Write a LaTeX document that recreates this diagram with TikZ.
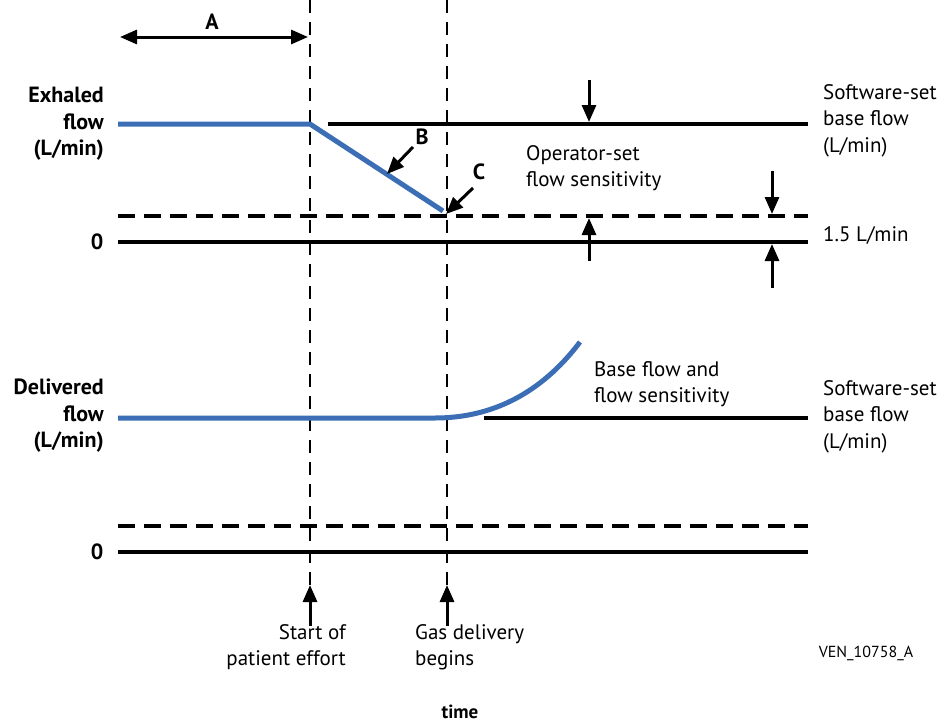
\documentclass[tikz,border=0pt]{standalone}
\usepackage{fontspec}
\setmainfont{PT Sans}
\usetikzlibrary{arrows.meta}
\definecolor{flowblue}{RGB}{59,110,181}
\begin{document}
\begin{tikzpicture}[x=1pt,y=-1pt,
  txt/.style={font=\fontsize{21}{26.5}\selectfont, inner sep=0pt, align=left},
  btxt/.style={font=\fontsize{22}{26.5}\selectfont\bfseries, inner sep=0pt},
  solidline/.style={line width=3.2pt},
  dashline/.style={line width=3.2pt, dash pattern=on 17pt off 9pt},
  vdash/.style={line width=1.3pt, dash pattern=on 13pt off 9pt},
  blueline/.style={line width=5pt, flowblue},
  arr/.style={line width=3pt, -{Triangle[length=17pt,width=14pt]}},
  darr/.style={line width=3pt, {Triangle[length=17pt,width=14pt]}-{Triangle[length=17pt,width=14pt]}}
]
\useasboundingbox (0,0) rectangle (948,723);

% coordinates
\coordinate (v1t) at (310,0);
\coordinate (v1b) at (310,585);
\coordinate (v2t) at (447,0);
\coordinate (v2b) at (447,585);

% vertical dashed lines
\draw[vdash] (v1t) -- (v1b);
\draw[vdash] (v2t) -- (v2b);

% A
\coordinate (aL) at (120,37);
\coordinate (aR) at (308,37);
\draw[darr] (aL) -- (aR);
\node[btxt] (lA) at (212,22) {A};

% upper plot
\node[btxt, anchor=east, align=right] (exh) at (104,124) {Exhaled\\flow\\(L/min)};
\node[btxt] (zero1) at (97,242) {0};
\coordinate (sb1L) at (328,124);
\coordinate (sb1R) at (808,124);
\draw[solidline] (sb1L) -- (sb1R);
\coordinate (ds1L) at (118,216);
\coordinate (ds1R) at (808,216);
\draw[dashline] (ds1L) -- (ds1R);
\coordinate (z1L) at (118,242);
\coordinate (z1R) at (808,242);
\draw[solidline] (z1L) -- (z1R);

\coordinate (b0) at (118,124);
\coordinate (b1) at (310,124);
\coordinate (b2) at (443,211);
\draw[blueline, line join=round] (b0) -- (b1) -- (b2);

% arrows between lines
\coordinate (a1t) at (589,80);
\coordinate (a1h) at (589,122);
\draw[arr] (a1t) -- (a1h);
\coordinate (a2t) at (589,261);
\coordinate (a2h) at (589,218);
\draw[arr] (a2t) -- (a2h);
\coordinate (a3t) at (772,171);
\coordinate (a3h) at (772,214);
\draw[arr] (a3t) -- (a3h);
\coordinate (a4t) at (772,288);
\coordinate (a4h) at (772,244);
\draw[arr] (a4t) -- (a4h);

% B and C
\node[btxt] (lB) at (422,137) {B};
\coordinate (bt) at (413,147);
\coordinate (bh) at (387,174);
\draw[arr] (bt) -- (bh);
\node[btxt] (lC) at (479,172) {C};
\coordinate (ct) at (473,188);
\coordinate (ch) at (446,214);
\draw[arr] (ct) -- (ch);

\node[txt, anchor=north west] (op) at (526,145) {Operator-set\\flow sensitivity};
\node[txt, anchor=north west] (sw1) at (823,84) {Software-set\\base flow\\(L/min)};
\node[txt, anchor=west] (l15) at (823,235) {1.5 L/min};

% lower plot
\node[btxt, anchor=east, align=right] (del) at (104,416) {Delivered\\flow\\(L/min)};
\node[btxt] (zero2) at (97,552) {0};
\coordinate (sb2L) at (484,418);
\coordinate (sb2R) at (808,418);
\draw[solidline] (sb2L) -- (sb2R);
\coordinate (ds2L) at (118,526);
\coordinate (ds2R) at (808,526);
\draw[dashline] (ds2L) -- (ds2R);
\coordinate (z2L) at (118,552);
\coordinate (z2R) at (808,552);
\draw[solidline] (z2L) -- (z2R);

\coordinate (d0) at (118,418);
\coordinate (d1) at (435,418);
\coordinate (d2) at (580,342);
\draw[blueline] (d0) -- (d1) .. controls (490,418) and (540,395) .. (d2);

\node[txt, anchor=north west] (bf) at (594,361) {Base flow and\\flow sensitivity};
\node[txt, anchor=north west] (sw2) at (823,380) {Software-set\\base flow\\(L/min)};

% bottom arrows
\coordinate (e1t) at (310,626);
\draw[arr] (e1t) -- (v1b);
\coordinate (e2t) at (447,626);
\draw[arr] (e2t) -- (v2b);

\node[txt, anchor=north east, align=right] (sp) at (346,624) {Start of\\patient effort};
\node[txt, anchor=north west, align=left] (gd) at (415,624) {Gas delivery\\begins};
\node[font=\fontsize{16}{18}\selectfont, inner sep=0pt] (ven) at (866,653) {VEN\_10758\_A};
\node[font=\fontsize{19}{20}\selectfont\bfseries, inner sep=0pt] (time) at (460,712) {time};
\end{tikzpicture}
\end{document}
